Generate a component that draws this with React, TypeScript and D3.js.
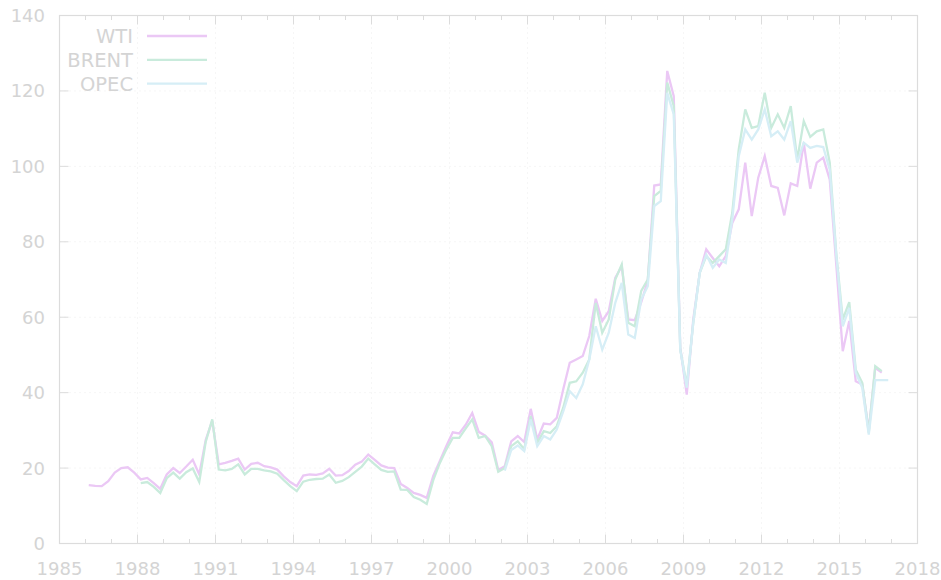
import React from "react";
import * as d3 from "d3";

const width = 941;
const height = 580;
const margin = { top: 15.5, right: 23.5, bottom: 36.5, left: 59.5 };

// quarterly averages, plotted at mid-quarter
const wtiStart = 1986;
const wti = [
  15.5, 15.3, 15.2, 16.5, 18.8, 20.0, 20.2, 18.8, 17.0, 17.4, 16.0, 14.5,
  18.3, 20.0, 18.7, 20.4, 22.2, 18.3, 27.5, 32.5, 21.0, 21.4, 21.9, 22.5,
  19.6, 21.1, 21.4, 20.5, 20.2, 19.6, 17.8, 16.3, 15.2, 18.0, 18.3, 18.2,
  18.6, 19.8, 18.0, 18.1, 19.2, 20.9, 21.7, 23.6, 22.2, 20.7, 20.1, 20.0,
  15.8, 14.7, 13.4, 12.9, 12.1, 17.9, 21.8, 25.8, 29.5, 29.2, 31.5, 34.6,
  29.6, 28.6, 26.8, 19.5, 20.5, 27.1, 28.5, 26.9, 35.7, 27.6, 31.8, 31.6,
  33.3, 40.9, 47.9, 48.8, 49.7, 55.0, 64.9, 59.0, 61.6, 70.4, 73.5, 59.4,
  59.2, 64.0, 69.6, 94.9, 95.2, 125.3, 118.6, 52.0, 39.5, 59.4, 71.8, 78.0,
  75.7, 73.5, 76.2, 85.0, 88.6, 101.0, 86.8, 97.0, 102.7, 94.8, 94.3, 87.0,
  95.5, 94.8, 106.3, 94.1, 101.0, 102.3, 96.5, 74.0, 51.0, 59.0, 43.0, 42.2,
  30.0, 46.6, 45.3,
];

const brentStart = 1988;
const brent = [
  16.0, 16.3, 15.0, 13.4, 17.3, 18.8, 17.2, 18.9, 19.9, 16.3, 27.0, 32.9,
  19.6, 19.4, 19.8, 21.0, 18.3, 19.8, 19.8, 19.4, 19.1, 18.5, 16.8, 15.2,
  13.9, 16.4, 16.9, 17.1, 17.2, 18.3, 16.1, 16.6, 17.6, 19.0, 20.4, 22.5,
  21.0, 19.5, 19.0, 19.1, 14.3, 14.2, 12.3, 11.6, 10.5, 16.8, 21.3, 24.9,
  28.0, 28.0, 30.5, 32.9, 28.0, 28.5, 25.8, 19.0, 20.0, 25.8, 27.1, 25.0,
  33.8, 26.7, 29.8, 29.3, 31.1, 36.0, 42.6, 43.0, 45.3, 48.8, 63.8, 55.9,
  59.4, 70.0, 74.0, 58.5, 57.6, 67.0, 70.0, 92.1, 93.5, 122.2, 116.0, 51.4,
  42.0, 58.5, 71.8, 76.2, 74.4, 76.2, 78.0, 87.7, 104.5, 115.1, 110.2, 110.7,
  119.5, 110.2, 113.8, 110.2, 116.0, 101.8, 112.0, 107.8, 109.3, 109.8, 101.0, 77.0,
  59.4, 64.0, 46.1, 42.6, 29.4, 47.0, 45.7,
];

const opecStart = 2002;
const opec = [
  19.3, 24.8, 26.0, 24.5, 32.9, 25.8, 28.5, 27.6, 30.2, 35.0, 40.4, 38.6,
  42.2, 48.8, 57.6, 51.4, 55.9, 63.8, 69.1, 55.4, 54.5, 64.7, 68.2, 89.5,
  90.8, 119.5, 113.8, 51.4, 41.3, 58.5, 71.8, 76.6, 73.1, 75.3, 74.4, 85.9,
  102.7, 109.8, 107.1, 109.8, 115.1, 108.0, 109.3, 107.1, 112.0, 101.0, 106.3, 104.9,
  105.4, 105.1, 99.1, 76.5, 57.6, 62.5, 45.3, 41.3, 28.9, 43.3, 43.3, 43.3,
];

const seriesNames = ["WTI", "BRENT", "OPEC"];
const seriesColors = ["#ebc8f5", "#c9ebdc", "#d6eef6"];

const xTicks = d3.range(1985, 2019, 3);
const xMinor = d3.range(1985, 2019, 1);
const yTicks = d3.range(0, 141, 20);

const toPoints = (start: number, vals: number[]) =>
  vals.map((v, i) => ({ t: start + (i + 0.5) / 4, v }));

const App = () => {
  const x = d3.scaleLinear().domain([1985, 2018]).range([margin.left, width - margin.right]);
  const y = d3.scaleLinear().domain([0, 140]).range([height - margin.bottom, margin.top]);

  const line = d3
    .line<{ t: number; v: number }>()
    .x(d => x(d.t))
    .y(d => y(d.v));

  const series = [
    toPoints(wtiStart, wti),
    toPoints(brentStart, brent),
    toPoints(opecStart, opec),
  ];

  const x0 = margin.left;
  const x1 = width - margin.right;
  const y0 = height - margin.bottom;
  const y1 = margin.top;
  const axisColor = "#dcdcdc";
  const textColor = "#d4d4d4";
  const font = "DejaVu Sans, sans-serif";

  return (
    <svg
      width={width}
      height={height}
      style={{ position: "absolute", left: 0, top: 0, background: "#fff" }}
    >
      {/* grid */}
      {xTicks.slice(1, -1).map(t => (
        <line key={"gx" + t} x1={x(t)} x2={x(t)} y1={y0} y2={y1}
          stroke="#ececec" strokeWidth={1} strokeDasharray="1,4" />
      ))}
      {yTicks.slice(1, -1).map(t => (
        <line key={"gy" + t} x1={x0} x2={x1} y1={y(t)} y2={y(t)}
          stroke="#ececec" strokeWidth={1} strokeDasharray="1,4" />
      ))}

      {/* ticks */}
      {xMinor.map(t => {
        const major = (t - 1985) % 3 === 0;
        const len = major ? 9 : 4.5;
        return (
          <g key={"tx" + t}>
            <line x1={x(t)} x2={x(t)} y1={y0} y2={y0 - len} stroke={axisColor} />
            <line x1={x(t)} x2={x(t)} y1={y1} y2={y1 + len} stroke={axisColor} />
          </g>
        );
      })}
      {yTicks.map(t => (
        <g key={"ty" + t}>
          <line x1={x0} x2={x0 + 9} y1={y(t)} y2={y(t)} stroke={axisColor} />
          <line x1={x1} x2={x1 - 9} y1={y(t)} y2={y(t)} stroke={axisColor} />
        </g>
      ))}

      <rect x={x0} y={y1} width={x1 - x0} height={y0 - y1}
        fill="none" stroke={axisColor} strokeWidth={1.2} />

      {/* tick labels */}
      {xTicks.map(t => (
        <text key={"lx" + t} x={x(t)} y={575} textAnchor="middle"
          fontFamily={font} fontSize={18} fill={textColor}>
          {t}
        </text>
      ))}
      {yTicks.map(t => (
        <text key={"ly" + t} x={45} y={y(t)} dy="0.36em" textAnchor="end"
          fontFamily={font} fontSize={18} fill={textColor}>
          {t}
        </text>
      ))}

      {/* lines */}
      {series.map((s, i) => (
        <path key={seriesNames[i]} d={line(s) || ""} fill="none"
          stroke={seriesColors[i]} strokeWidth={2.3} strokeLinejoin="miter" />
      ))}

      {/* legend */}
      {seriesNames.map((n, i) => {
        const ly = 36 + i * 23.8;
        return (
          <g key={"lg" + n}>
            <text x={133} y={ly} dy="0.36em" textAnchor="end"
              fontFamily={font} fontSize={19.5} fill={textColor}>
              {n}
            </text>
            <line x1={147} x2={207} y1={ly} y2={ly} stroke={seriesColors[i]} strokeWidth={2.3} />
          </g>
        );
      })}
    </svg>
  );
};

export default App;
